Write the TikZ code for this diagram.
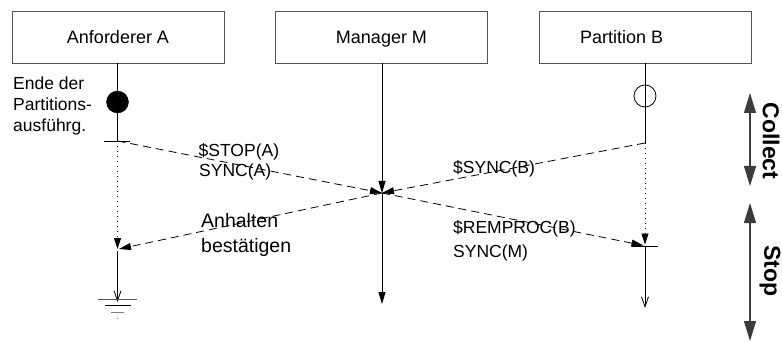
\documentclass[tikz,border=0pt]{standalone}
\usepackage{fontspec}
\setmainfont{Liberation Sans}
\usetikzlibrary{arrows.meta}
\definecolor{boxgray}{HTML}{555555}
\definecolor{phasegray}{HTML}{3C3C3C}
\begin{document}
\begin{tikzpicture}[x=1pt,y=-1pt,
  box/.style={draw=boxgray, line width=0.9pt, minimum width=212pt, minimum height=52pt,
    inner sep=0pt, font=\fontsize{18}{20}\selectfont, text height=12.5pt, text depth=0pt},
  life/.style={line width=0.8pt},
  msg/.style={line width=0.8pt, dash pattern=on 8pt off 5pt,
    -{Triangle[length=12pt,width=7pt]}},
  waitline/.style={line width=0.8pt, dash pattern=on 1pt off 4pt,
    -{Triangle[length=11pt,width=7pt]}},
  opentip/.style={life, -{Straight Barb[length=10pt,width=7pt]}},
  filltip/.style={life, -{Triangle[length=12pt,width=7pt]}},
  lbl/.style={anchor=base west, inner sep=0pt, font=\fontsize{17.5}{20}\selectfont},
  biglbl/.style={anchor=base west, inner sep=0pt, font=\fontsize{19.5}{24}\selectfont},
  phase/.style={draw=phasegray, line width=1.2pt,
    {Triangle[length=20pt,width=12pt]}-{Triangle[length=20pt,width=12pt]}},
  phaselbl/.style={rotate=-90, inner sep=0pt, font=\fontsize{23}{26}\selectfont\bfseries},
]
\useasboundingbox (0,0) rectangle (782,342);

% participants
\node[box] (A) at (118,37) {Anforderer A};
\node[box] (M) at (381.5,37) {Manager M};
\node[box] (B) at (645.5,37) {};
\node[anchor=base west, inner sep=0pt, font=\fontsize{18}{20}\selectfont] (Blbl) at (580,44) {Partition B};

% points on the lifelines
\coordinate (Atop) at (117.5,63);
\coordinate (Aend) at (117.5,141);
\coordinate (Aack) at (117.5,249);
\coordinate (Aack2) at (119,249);
\coordinate (Abot) at (117.5,302);
\coordinate (Mtop) at (382,63);
\coordinate (X) at (382,193);
\coordinate (Mbot) at (382,304);
\coordinate (Btop) at (645,63);
\coordinate (Bsync) at (645,143);
\coordinate (Bstop) at (645,246);
\coordinate (Bstop2) at (643.5,245.5);
\coordinate (Bbot) at (645,308);

% lifeline of A
\draw[life] (Atop) -- (Aend);
\node[circle, fill=black, draw=black, minimum size=22pt, inner sep=0pt] (Aexec) at (117.5,102) {};
\draw[life] (104,141) -- (130,141);
\draw[waitline] (Aend) -- (Aack);
\draw[opentip] (117.5,251) -- (Abot);
% ground
\draw[line width=0.9pt, draw=boxgray] (98,299) -- (137,299);
\draw[line width=0.9pt] (105,305) -- (131,305);
\draw[line width=0.9pt, draw=gray] (111,312) -- (124,312);
\fill[gray] (117.5,318.5) circle (0.6pt);

% lifeline of M
\draw[filltip] (Mtop) -- (X);
\draw[filltip] (X) -- (Mbot);

% lifeline of B
\draw[life] (Btop) -- (Bsync);
\node[circle, draw=black, line width=0.8pt, minimum size=22pt, inner sep=0pt] (Bexec) at (645,96) {};
\draw[waitline] (Bsync) -- (645,244.5);
\draw[life] (632,246) -- (658,246);
\draw[opentip] (Bstop) -- (Bbot);

% messages
\draw[msg] (Aend) -- (X);
\draw[msg] (Bsync) -- (X);
\draw[msg] (X) -- (Aack2);
\draw[msg] (X) -- (Bstop2);

% message labels
\node[lbl] (t1) at (198.5,157) {\$STOP(A)};
\node[lbl] (t2) at (199,177) {SYNC(A)};
\node[lbl] (t3) at (453,174) {\$SYNC(B)};
\node[biglbl] (t4) at (201,227) {Anhalten};
\node[biglbl] (t5) at (201,252) {bestätigen};
\node[lbl] (t6) at (453,233) {\$REMPROC(B)};
\node[lbl] (t7) at (453,257) {SYNC(M)};

% note on A
\node[lbl] (n1) at (13,90) {Ende der};
\node[lbl] (n2) at (13,111) {Partitions-};
\node[lbl] (n3) at (13,132) {ausführg.};

% phases
\coordinate (c1) at (750,93);
\coordinate (c2) at (750,186);
\coordinate (s1) at (750,203);
\coordinate (s2) at (750,341);
\draw[phase] (c1) -- (c2);
\draw[phase] (s1) -- (s2);
\node[phaselbl] (collect) at (771,141) {Collect};
\node[phaselbl] (stop) at (770,271) {Stop};
\end{tikzpicture}
\end{document}
